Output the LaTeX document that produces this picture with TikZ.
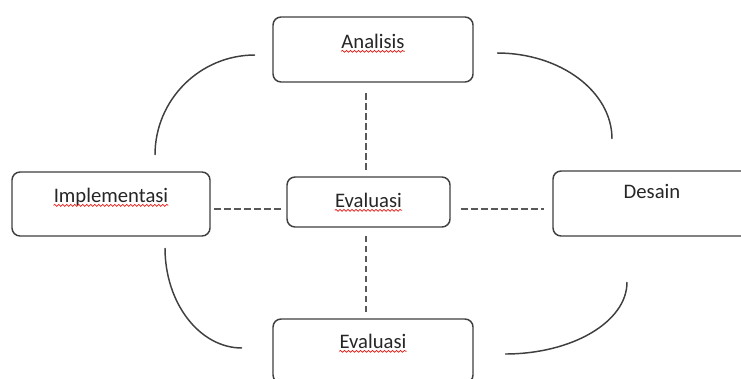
\documentclass[tikz,border=0pt]{standalone}
\usepackage{fontspec}
\setmainfont{Carlito}
\usetikzlibrary{positioning,decorations.pathmorphing}
\definecolor{boxgrey}{HTML}{3F3F3F}
\definecolor{dashgrey}{HTML}{595959}
\definecolor{textdark}{HTML}{262626}
\definecolor{spellred}{HTML}{E0201B}

\begin{document}
\begin{tikzpicture}[x=0.75pt, y=-0.75pt,
  stage/.style={draw=boxgrey, line width=1.1pt, rounded corners=6pt, inner sep=0pt, minimum width=150pt},
  word/.style={font=\fontsize{15.5}{18}\selectfont, text=textdark, inner sep=0pt, anchor=base},
  link/.style={draw=dashgrey, line width=1.1pt, dash pattern=on 5pt off 2.5pt},
  cycarc/.style={draw=boxgrey, line width=1.1pt},
  spell/.style={draw=spellred, line width=0.55pt, decorate, decoration={snake, amplitude=0.7pt, segment length=3pt}},
]
\useasboundingbox (0,0) rectangle (741,378);

% boxes (pixel grid, y downwards)
\node[stage, minimum height=48.75pt] (ana) at (373,49.5) {};
\node[stage, minimum width=148.5pt, minimum height=48pt] (impl) at (111,204) {};
\node[stage, minimum width=122.25pt, minimum height=37.5pt] (ev) at (368.5,202) {};
\node[stage, minimum width=148.5pt, minimum height=48.75pt] (des) at (652,203.5) {};
\node[stage, minimum height=48pt] (evb) at (373,351) {};

% texts sit in the upper part of each box
\node[word] (anaT) at ([yshift=-24pt]ana.north) {Analisis};
\node[word] (implT) at ([yshift=-23.25pt]impl.north) {Implementasi};
\node[word] (evT) at ([yshift=-23.25pt]ev.north) {Evaluasi};
\node[word] (desT) at ([yshift=-21pt]des.north) {Desain};
\node[word] (evbT) at ([yshift=-22.5pt]evb.north) {Evaluasi};

% spelling marks
\foreach \n in {anaT,implT,evT,evbT}
  \draw[spell] ([yshift=-2.3pt]\n.base west) -- ([yshift=-2.3pt]\n.base east);

% dashed links to the centre
\coordinate (axis) at (366,0);
\coordinate (mid) at (0,209);
\draw[link, shorten <=8pt, shorten >=3.5pt] (ana.south -| axis) -- (ev.north -| axis);
\draw[link, shorten <=6pt, shorten >=5pt] (ev.south -| axis) -- (evb.north -| axis);
\draw[link, shorten <=2.5pt, shorten >=3.5pt] (impl.east |- mid) -- (ev.west |- mid);
\draw[link, shorten <=8pt, shorten >=6pt] (ev.east |- mid) -- (des.west |- mid);

% cycle arcs
\draw[cycarc] (255,55) .. controls (199.8,55) and (155,99.8) .. (155,155);
\draw[cycarc] (497,53) .. controls (560.5,53) and (612,91.5) .. (612,139);
\draw[cycarc] (165,248) .. controls (165,303) and (199.5,348) .. (242,348);
\draw[cycarc] (505,354) .. controls (572,354) and (627,322) .. (627,282);
\end{tikzpicture}
\end{document}
